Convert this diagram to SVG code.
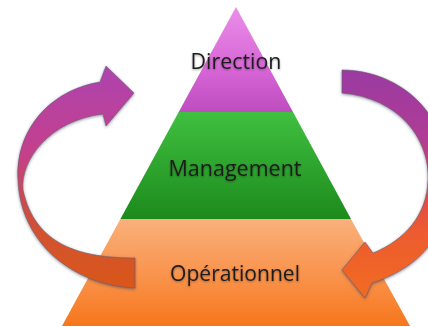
<svg xmlns="http://www.w3.org/2000/svg" width="428" height="327" viewBox="0 0 428 327">
<defs>
<linearGradient id="gPurple" x1="0" y1="0" x2="0" y2="1">
<stop offset="0" stop-color="#ea8ee9"/>
<stop offset="0.6" stop-color="#d765d6"/>
<stop offset="1" stop-color="#bd4cbe"/>
</linearGradient>
<linearGradient id="gGreen" x1="0" y1="0" x2="0" y2="1">
<stop offset="0" stop-color="#40c040"/>
<stop offset="1" stop-color="#1c8a1c"/>
</linearGradient>
<linearGradient id="gOrange" x1="0" y1="0" x2="0" y2="1">
<stop offset="0" stop-color="#fab07c"/>
<stop offset="0.6" stop-color="#f98f45"/>
<stop offset="1" stop-color="#f7761c"/>
</linearGradient>
<linearGradient id="gLeft" gradientUnits="userSpaceOnUse" x1="0" y1="66" x2="0" y2="288">
<stop offset="0" stop-color="#ad44b0"/>
<stop offset="0.4" stop-color="#c5408a"/>
<stop offset="0.55" stop-color="#c9485a"/>
<stop offset="0.75" stop-color="#d25230"/>
<stop offset="1" stop-color="#d9571a"/>
</linearGradient>
<linearGradient id="gRight" gradientUnits="userSpaceOnUse" x1="0" y1="70" x2="0" y2="298">
<stop offset="0" stop-color="#9a3aa2"/>
<stop offset="0.3" stop-color="#b03c95"/>
<stop offset="0.5" stop-color="#d8445a"/>
<stop offset="0.7" stop-color="#ec5a30"/>
<stop offset="1" stop-color="#f26c22"/>
</linearGradient>
<filter id="shadow" x="-20%" y="-20%" width="140%" height="140%">
<feDropShadow dx="0" dy="1" stdDeviation="1.5" flood-color="#404060" flood-opacity="0.6"/>
</filter>
<filter id="tshadow" x="-10%" y="-30%" width="120%" height="160%">
<feDropShadow dx="0" dy="1" stdDeviation="1" flood-color="#000" flood-opacity="0.35"/>
</filter>
</defs>
<style>
.lbl{font-family:"Open Sans","Liberation Sans",sans-serif;font-size:22.5px;font-weight:500;fill:#1c1c1c;text-anchor:middle;filter:url(#tshadow)}
.arrow{stroke:#6a5a70;stroke-opacity:0.55;stroke-width:1;filter:url(#shadow)}
</style>
<g id="pyramid">
<g id="operationnel">
<polygon points="120.4,219 351,219 410,326 62,326" fill="url(#gOrange)"/>
<text class="lbl" x="235" y="281" textLength="130" lengthAdjust="spacingAndGlyphs">Opérationnel</text>
</g>
<g id="management">
<polygon points="178.7,112 293,112 351,219 120.4,219" fill="url(#gGreen)"/>
<text class="lbl" x="235" y="175.5" textLength="133" lengthAdjust="spacingAndGlyphs">Management</text>
</g>
<g id="direction">
<polygon points="236,7 293,112 178.7,112" fill="url(#gPurple)"/>
<text class="lbl" x="236" y="69" textLength="91" lengthAdjust="spacingAndGlyphs">Direction</text>
</g>
</g>
<g id="connectors">
<path id="arrow-left" class="arrow" fill="url(#gLeft)" d="M135,258 C80,258 35,245 23,190 C20,160 50,120 103,114 L106,126 L134,93 L106,66 L100,82 C50,90 15,130 18,180 C20,240 70,285 135,288 Z"/>
<path id="arrow-right" class="arrow" fill="url(#gRight)" d="M342,70 C380,70 420,90 438,130 C458,175 460,255 372,283 L365,298 L342,270 L365,242 L373,253 C405,240 427,215 428,180 C430,140 400,98 342,93 Z"/>
</g>
</svg>
